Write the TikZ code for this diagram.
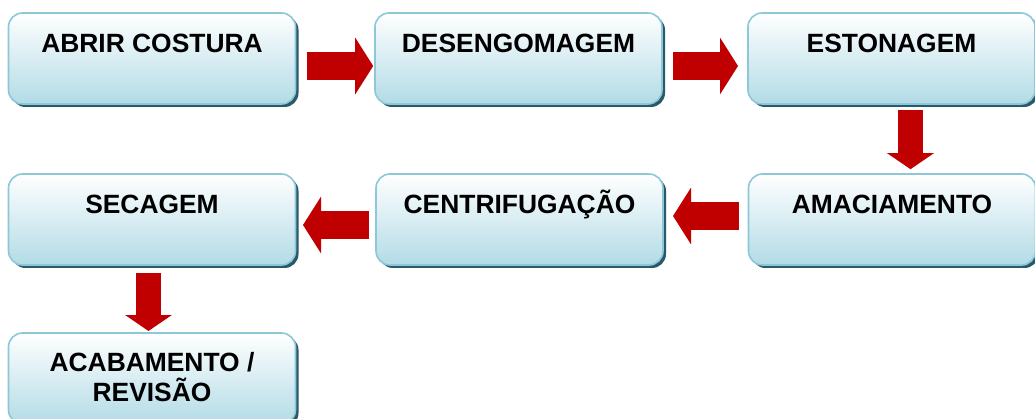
\documentclass[tikz,border=0pt]{standalone}
\usepackage{fontspec}
\setmainfont{Liberation Sans}
\usetikzlibrary{shadows,arrows.meta,calc}
\definecolor{boxborder}{RGB}{140,200,216}
\definecolor{boxbottom}{RGB}{178,219,230}
\definecolor{boxshadow}{RGB}{40,90,105}
\definecolor{arrowred}{RGB}{192,0,0}
\begin{document}
\begin{tikzpicture}[x=1pt,y=-1pt,
  stagebox/.style={rectangle, rounded corners=14pt, minimum width=287pt, minimum height=91pt,
    draw=boxborder, line width=1.6pt, top color=white, bottom color=boxbottom,
    drop shadow={shadow xshift=3pt, shadow yshift=-3pt, fill=boxshadow, opacity=1}, inner sep=0pt},
  stagetext/.style={font=\bfseries\fontsize{26.4}{30}\selectfont, anchor=base, inner sep=0pt, align=center},
  flowh/.style={draw=arrowred, line width=28pt, -{Triangle[width=56pt,length=18pt]}},
  flowv/.style={draw=arrowred, line width=25pt, -{Triangle[width=46pt,length=16pt]}},
]
\useasboundingbox (0,0) rectangle (1035,419);
% boxes
\node[stagebox] (b1) at (152,58.5) {};
\node[stagebox] (b2) at (518.5,58.5) {};
\node[stagebox] (b3) at (891.5,58.5) {};
\node[stagebox] (b4) at (892,219.5) {};
\node[stagebox] (b5) at (519.5,219.5) {};
\node[stagebox] (b6) at (152,219.5) {};
\node[stagebox] (b7) at (152,378.5) {};
% texts
\node[stagetext] (t1) at ($(b1.north)+(0,40)$) {ABRIR COSTURA};
\node[stagetext] (t2) at ($(b2.north)+(0,40)$) {DESENGOMAGEM};
\node[stagetext] (t3) at ($(b3.north)+(0,40)$) {ESTONAGEM};
\node[stagetext] (t4) at ($(b4.north)+(0,40)$) {AMACIAMENTO};
\node[stagetext] (t5) at ($(b5.north)+(0,40)$) {CENTRIFUGAÇÃO};
\node[stagetext] (t6) at ($(b6.north)+(0,40)$) {SECAGEM};
\node[stagetext, anchor=north] (t7) at ($(b7.north)+(0,20)$) {ACABAMENTO /\\REVISÃO};
% arrows
\draw[flowh] ($(b1.east)+(10.7,7.5)$) -- ($(b2.west)+(-1,7.5)$);
\draw[flowh] ($(b2.east)+(10.2,7.5)$) -- ($(b3.west)+(-9.2,7.5)$);
\draw[flowv] ($(b3.south)+(19,5)$) -- ($(b4.north)+(18.5,-4)$);
\draw[flowh] ($(b4.west)+(-8.7,-3.5)$) -- ($(b5.east)+(9.2,-3.5)$);
\draw[flowh] ($(b5.west)+(-6.2,5.5)$) -- ($(b6.east)+(6.7,5.5)$);
\draw[flowv] ($(b6.south)+(-3.5,7.2)$) -- ($(b7.north)+(-3.5,-1.2)$);
\end{tikzpicture}
\end{document}
